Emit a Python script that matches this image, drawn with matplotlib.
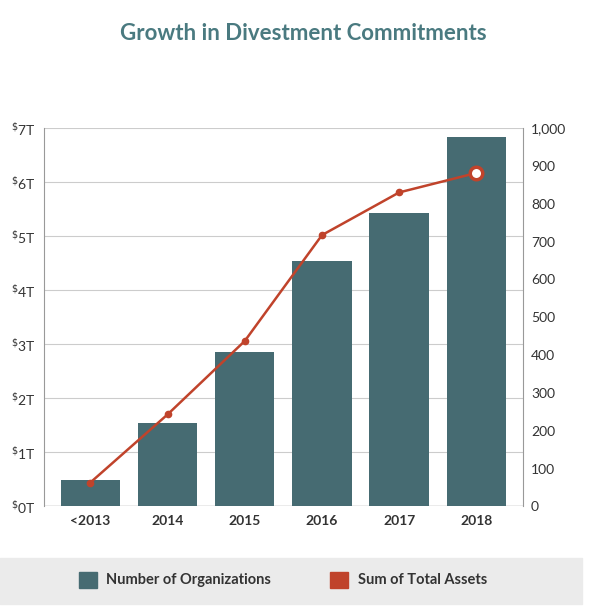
import matplotlib.pyplot as plt
import numpy as np
from matplotlib.patches import Rectangle

years = ["<2013", "2014", "2015", "2016", "2017", "2018"]
organizations = [69, 220, 407, 648, 775, 976]
assets_trillions = [0.44, 1.70, 3.06, 5.02, 5.81, 6.17]

bar_color = "#466b72"
line_color = "#c0432b"
text_color = "#333333"

plt.rcParams['font.family'] = ['Lato', 'DejaVu Sans']

fig = plt.figure(figsize=(6.06, 6.13), dpi=100)
ax = fig.add_axes([0.0726, 0.174, 0.79, 0.617])
ax2 = ax.twinx()

x = np.arange(len(years))
ax2.bar(x, organizations, width=0.77, color=bar_color, zorder=2)
ax2.set_ylim(0, 1000)
ax2.set_yticks(range(0, 1001, 100))
ax2.set_yticklabels([f"{v:,}" for v in range(0, 1001, 100)], fontsize=10, color=text_color)

ax.set_zorder(ax2.get_zorder() + 1)
ax.patch.set_visible(False)
ax.plot(x, assets_trillions, color=line_color, lw=1.8, marker='o', ms=4.5, zorder=3)
ax.plot(x[-1], assets_trillions[-1], marker='o', ms=9, mfc='white', mec=line_color, mew=2.5, zorder=4)
ax.set_ylim(0, 7)
ax.set_yticks(range(8))
ax.set_yticklabels([rf"$^{{\$}}${v}T" for v in range(8)], fontsize=10, color=text_color)
ax.set_xlim(-0.6, 5.6)
ax.set_xticks(x)
ax.set_xticklabels(years, fontsize=10, color=text_color, fontweight='bold')

for a in (ax, ax2):
    a.tick_params(length=0, pad=6)
    for s in a.spines.values():
        s.set_visible(False)
for v in range(1, 8):
    ax2.axhline(v * 1000 / 7, color='#cccccc', lw=0.8, zorder=1)
ax2.axhline(0, color='#999999', lw=1, zorder=1)
ax.spines['left'].set_visible(True)
ax.spines['left'].set_color('#999999')
ax.spines['right'].set_visible(True)
ax.spines['right'].set_color('#999999')

fig.text(0.5, 0.945, "Growth in Divestment Commitments", ha='center', va='center',
         fontsize=16, fontweight='bold', color='#4a7a80')

fig.patches.append(Rectangle((0.0, 0.015), 0.96, 0.075, transform=fig.transFigure,
                             color='#ebebeb', zorder=0))
fig.patches.append(Rectangle((0.13, 0.04), 0.03, 0.027, transform=fig.transFigure, color=bar_color))
fig.text(0.175, 0.054, "Number of Organizations", va='center', fontsize=10.5,
         fontweight='bold', color=text_color)
fig.patches.append(Rectangle((0.545, 0.04), 0.03, 0.027, transform=fig.transFigure, color=line_color))
fig.text(0.59, 0.054, "Sum of Total Assets", va='center', fontsize=10.5,
         fontweight='bold', color=text_color)

fig.savefig("out.png", dpi=100)
